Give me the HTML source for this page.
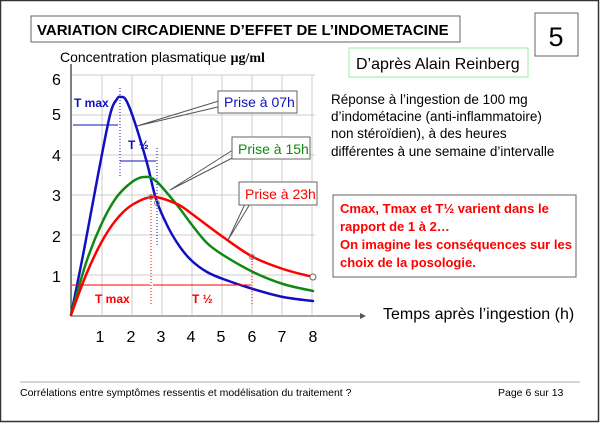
<!DOCTYPE html><html><head><meta charset="utf-8"><style>
body{margin:0;background:#fff}
svg{display:block;font-family:"Comic Sans MS","Liberation Sans",sans-serif}
</style></head><body>
<svg width="600" height="423" viewBox="0 0 600 423">
<rect x="0.5" y="0.5" width="598" height="421" fill="#fff" stroke="#333" stroke-width="1.5"/>
<rect x="31" y="16" width="429" height="26" fill="#fff" stroke="#666"/>
<text x="37" y="35" font-size="15" font-weight="bold" fill="#000">VARIATION CIRCADIENNE D’EFFET DE L’INDOMETACINE</text>
<rect x="535" y="13" width="43" height="43" fill="#fff" stroke="#666"/>
<text x="556" y="46" font-size="27" text-anchor="middle">5</text>
<rect x="349" y="48" width="179" height="29" fill="#fff" stroke="#9e9"/>
<text x="356" y="69" font-size="16">D’après Alain Reinberg</text>
<g font-size="13.5"><text x="331" y="104">Réponse à l’ingestion de 100 mg</text><text x="331" y="121">d’indométacine (anti-inflammatoire)</text><text x="331" y="138">non stéroïdien), à des heures</text><text x="331" y="156">différentes à une semaine d’intervalle</text></g>
<rect x="333" y="195" width="243" height="82" fill="#fff" stroke="#666"/>
<g font-size="13" font-weight="bold" fill="#f00"><text x="340" y="213">Cmax, Tmax  et T½ varient dans le</text><text x="340" y="231">rapport de 1 à 2…</text><text x="340" y="249">On imagine les conséquences sur les</text><text x="340" y="267">choix de la posologie.</text></g>
<text x="60" y="62" font-size="14">Concentration plasmatique <tspan font-family="Liberation Serif" font-weight="bold">µg/ml</tspan></text>
<g stroke="#ccc" stroke-width="1">
<line x1="72" y1="75" x2="315" y2="75"/><line x1="72" y1="115" x2="315" y2="115"/><line x1="72" y1="155" x2="315" y2="155"/><line x1="72" y1="195" x2="315" y2="195"/><line x1="72" y1="235" x2="315" y2="235"/><line x1="72" y1="275" x2="315" y2="275"/>
<line x1="102" y1="75" x2="102" y2="315"/><line x1="132" y1="75" x2="132" y2="315"/><line x1="162" y1="75" x2="162" y2="315"/><line x1="192" y1="75" x2="192" y2="315"/><line x1="222" y1="75" x2="222" y2="315"/><line x1="252" y1="75" x2="252" y2="315"/><line x1="282" y1="75" x2="282" y2="315"/><line x1="312" y1="75" x2="312" y2="315"/>
</g>
<line x1="71" y1="316" x2="71" y2="64" stroke="#555" stroke-width="1.5"/>
<line x1="71" y1="316" x2="360" y2="316" stroke="#888" stroke-width="1.5"/>
<polygon points="360,313 366,316 360,319" fill="#555"/>
<g font-size="16"><text x="52" y="85">6</text><text x="52" y="120">5</text><text x="52" y="161">4</text><text x="52" y="201">3</text><text x="52" y="242">2</text><text x="52" y="282">1</text></g>
<g font-size="16" text-anchor="middle"><text x="100" y="342">1</text><text x="131" y="342">2</text><text x="161" y="342">3</text><text x="191" y="342">4</text><text x="221" y="342">5</text><text x="252" y="342">6</text><text x="282" y="342">7</text><text x="313" y="342">8</text></g>
<text x="383" y="319" font-size="16">Temps après l’ingestion (h)</text>
<g fill="none" stroke-width="2.5" stroke-linejoin="round" stroke-linecap="round">
<path id="pb" stroke="#1010c0" data-p="71,315 84,250 98,175 110,115 117,99 121,97 126,100 134,120 147,163 156,199 168,227 180,247 192,261 207,272 223,279 253,289 283,297 313,301"/>
<path id="pg" stroke="#118811" data-p="71,315 86,263 101,225 116,198 132,182 144,177 156,181 177,205 192,225 207,243 223,255 253,272 283,284 313,291"/>
<path id="pr" stroke="#f00" data-p="71,315 86,275 101,243 116,220 132,205 153,197 177,204 192,214 223,237 253,257 283,269 313,277"/>
</g>
<circle cx="313" cy="277" r="3" fill="#fff" stroke="#666"/>
<circle cx="252" cy="257" r="2.5" fill="none" stroke="#888"/>
<circle cx="151" cy="197" r="2.5" fill="none" stroke="#888"/>
<circle cx="157" cy="203" r="2.5" fill="none" stroke="#888"/>
<g stroke="#1010c0" stroke-width="1"><line x1="120" y1="88" x2="120" y2="178" stroke-dasharray="1,2"/><line x1="157" y1="148" x2="157" y2="245" stroke-dasharray="1,2"/><line x1="73" y1="125" x2="118" y2="125"/><line x1="120" y1="161" x2="156" y2="161"/></g>
<g fill="#1010c0" font-weight="bold" font-size="12"><text x="74" y="107">T max</text><text x="128" y="149">T ½</text></g>
<g stroke="#f00" stroke-width="1"><line x1="151" y1="195" x2="151" y2="305" stroke-dasharray="1,2"/><line x1="252" y1="255" x2="252" y2="305" stroke-dasharray="1,2"/><line x1="72" y1="285" x2="150" y2="285"/><line x1="153" y1="285" x2="251" y2="285"/></g>
<g fill="#f00" font-weight="bold" font-size="12"><text x="95" y="303">T max</text><text x="192" y="303">T ½</text></g>
<g stroke="#555" stroke-width="1" fill="none"><polyline points="222,100 137,126 222,106"/><polyline points="236,148 170,190 240,154"/><polyline points="245,204 228,240 250,204"/></g>
<g font-size="14"><rect x="218" y="91" width="79" height="22" fill="#fff" stroke="#666"/><text x="224" y="107" fill="#1010c0">Prise à 07h</text>
<rect x="232" y="137" width="78" height="22" fill="#fff" stroke="#666"/><text x="238" y="154" fill="#118811">Prise à 15h</text>
<rect x="239" y="182" width="78" height="23" fill="#fff" stroke="#666"/><text x="245" y="199" fill="#f00">Prise à 23h</text></g>
<line x1="20" y1="382" x2="580" y2="382" stroke="#aaa"/>
<text x="20" y="396" font-size="10.5">Corrélations entre symptômes ressentis et modélisation du traitement ?</text>
<text x="498" y="396" font-size="10.5">Page 6 sur 13</text>
</svg>
<script>
['pb','pg','pr'].forEach(function(id){var e=document.getElementById(id);var p=e.getAttribute('data-p').split(' ').map(function(s){return s.split(',').map(Number)});var d='M'+p[0];for(var i=0;i<p.length-1;i++){var a=p[i-1]||p[i],b=p[i],c=p[i+1],f=p[i+2]||c;d+=' C'+(b[0]+(c[0]-a[0])/6)+','+(b[1]+(c[1]-a[1])/6)+' '+(c[0]-(f[0]-b[0])/6)+','+(c[1]-(f[1]-b[1])/6)+' '+c[0]+','+c[1];}e.setAttribute('d',d);e.removeAttribute('data-p');});
</script>
</body></html>
